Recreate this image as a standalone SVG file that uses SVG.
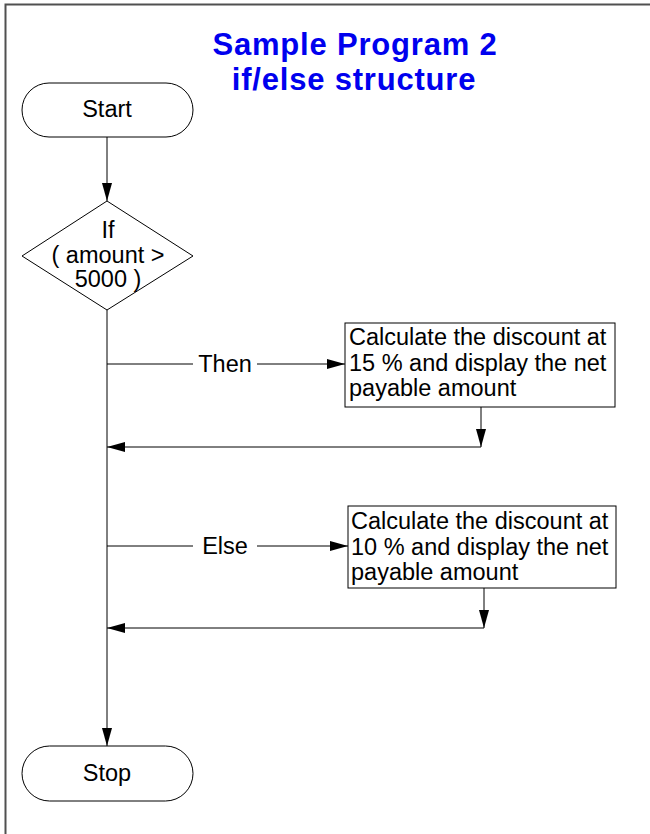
<svg xmlns="http://www.w3.org/2000/svg" width="650" height="834" viewBox="0 0 650 834">
<defs>
<style>
.shape{fill:#fff;stroke:#000;stroke-width:1}
.t{font-family:"Liberation Sans",Arial,sans-serif;font-size:23.5px;fill:#000}
.title{font-family:"Liberation Sans",Arial,sans-serif;font-size:31px;font-weight:bold;letter-spacing:0.8px;fill:#0000ee}
.c{stroke:#000;stroke-width:1;fill:none}
</style>
<marker id="ah" viewBox="0 0 18 10" refX="18" refY="5" markerWidth="18" markerHeight="10" markerUnits="userSpaceOnUse" orient="auto">
<path d="M0,0 L18,5 L0,10 Z" fill="#000"/>
</marker>
</defs>
<rect width="650" height="834" fill="#fff"/>
<path d="M5.5,834 L5.5,4.5 L650,4.5" fill="none" stroke="#505050" stroke-width="2"/>
<g id="title">
<text class="title" x="355" y="55" text-anchor="middle">Sample Program 2</text>
<text class="title" x="354" y="90" text-anchor="middle">if/else structure</text>
</g>
<g id="connectors">
<line class="c" x1="107" y1="137" x2="107" y2="201" marker-end="url(#ah)"/>
<line class="c" x1="107" y1="310" x2="107" y2="746" marker-end="url(#ah)"/>
<line class="c" x1="107" y1="364" x2="193" y2="364"/>
<line class="c" x1="257" y1="364" x2="345" y2="364" marker-end="url(#ah)"/>
<text class="t" x="225" y="372" text-anchor="middle">Then</text>
<line class="c" x1="481" y1="407" x2="481" y2="447" marker-end="url(#ah)"/>
<line class="c" x1="481" y1="447" x2="107" y2="447" marker-end="url(#ah)"/>
<line class="c" x1="107" y1="546" x2="193" y2="546"/>
<line class="c" x1="257" y1="546" x2="348" y2="546" marker-end="url(#ah)"/>
<text class="t" x="225" y="554" text-anchor="middle">Else</text>
<line class="c" x1="484" y1="588" x2="484" y2="628" marker-end="url(#ah)"/>
<line class="c" x1="484" y1="628" x2="107" y2="628" marker-end="url(#ah)"/>
</g>
<g id="start">
<rect class="shape" x="22" y="83" width="171" height="54" rx="27" ry="27"/>
<text class="t" x="107" y="117" text-anchor="middle">Start</text>
</g>
<g id="decision">
<polygon class="shape" points="107,201 193,256 107,310 22,256"/>
<text class="t" x="108" y="238" text-anchor="middle">If</text>
<text class="t" x="108" y="263" text-anchor="middle">( amount &gt;</text>
<text class="t" x="108" y="287" text-anchor="middle">5000 )</text>
</g>
<g id="then-box">
<rect class="shape" x="345" y="323" width="270" height="84"/>
<text class="t" x="349" y="345">Calculate the discount at</text>
<text class="t" x="349" y="371">15 % and display the net</text>
<text class="t" x="349" y="396">payable amount</text>
</g>
<g id="else-box">
<rect class="shape" x="348" y="506" width="268" height="82"/>
<text class="t" x="351" y="529">Calculate the discount at</text>
<text class="t" x="351" y="555">10 % and display the net</text>
<text class="t" x="351" y="580">payable amount</text>
</g>
<g id="stop">
<rect class="shape" x="22" y="746" width="171" height="55" rx="27.5" ry="27.5"/>
<text class="t" x="107" y="781" text-anchor="middle">Stop</text>
</g>
</svg>
